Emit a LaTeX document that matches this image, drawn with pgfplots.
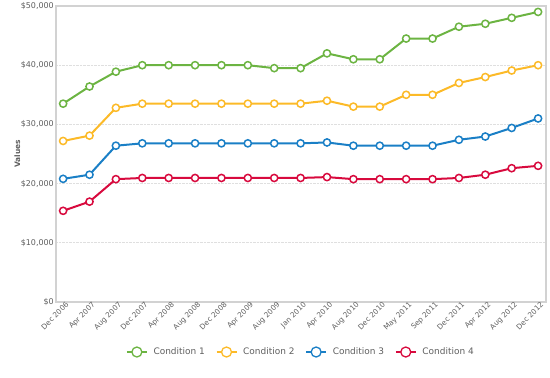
\documentclass[border=0pt]{standalone}
\usepackage{pgfplots}
\pgfplotsset{compat=1.18}
\usepackage{fontspec}
\setmainfont{DejaVu Sans}
\definecolor{cgreen}{RGB}{108,180,66}
\definecolor{cyellow}{RGB}{252,186,40}
\definecolor{cblue}{RGB}{26,127,198}
\definecolor{cred}{RGB}{216,10,62}
\definecolor{txt}{RGB}{95,95,95}
\definecolor{frame}{RGB}{210,210,210}
\begin{document}
\begin{tikzpicture}[x=1bp,y=1bp]
\begin{axis}[
  scale only axis,
  width=490bp, height=296bp,
  xmin=-0.27, xmax=18.3,
  ymin=0, ymax=50000,
  scaled y ticks=false,
  xtick={0,...,18},
  xticklabels={Dec 2006,Apr 2007,Aug 2007,Dec 2007,Apr 2008,Aug 2008,Dec 2008,Apr 2009,Aug 2009,Jan 2010,Apr 2010,Aug 2010,Dec 2010,May 2011,Sep 2011,Dec 2011,Apr 2012,Aug 2012,Dec 2012},
  ytick={0,10000,20000,30000,40000,50000},
  yticklabels={\$0,{\$10,000},{\$20,000},{\$30,000},{\$40,000},{\$50,000}},
  xticklabel style={rotate=45, anchor=north east, font=\fontsize{7.3}{8}\selectfont, text=txt, inner sep=1pt, xshift=3bp},
  yticklabel style={font=\fontsize{8}{9}\selectfont, text=txt, inner sep=2pt},
  major tick length=0pt,
  axis line style={frame, line width=1.2bp},
  ymajorgrids,
  grid style={densely dotted, gray!25, line width=0.7bp},
  ylabel={Values},
  ylabel style={font=\bfseries\fontsize{7.5}{8}\selectfont, text=txt, yshift=-5bp},
  legend style={at={(0.5,-0.169)}, anchor=center, draw=none, fill=none, legend columns=4,
    font=\fontsize{9}{10}\selectfont, text=txt, /tikz/every even column/.append style={column sep=9bp},
    /tikz/every odd column/.append style={column sep=4bp}},
  legend image post style={line width=1.3bp},
  legend image code/.code={\draw[#1] (0bp,0bp) -- (20bp,0bp); \draw[#1, fill=white, mark size=0pt] (10bp,0bp) circle (5bp);},
  every axis plot/.append style={line width=2bp, mark=*, mark size=3.6bp, mark options={fill=white, line width=1.5bp}},
  /pgf/number format/assume math mode=true,
]
\addplot[cgreen] coordinates {(0,33500)(1,36400)(2,38900)(3,40000)(4,40000)(5,40000)(6,40000)(7,40000)(8,39500)(9,39500)(10,42000)(11,41000)(12,41000)(13,44500)(14,44500)(15,46500)(16,47000)(17,48000)(18,49000)};
\addlegendentry{Condition 1}
\addplot[cyellow] coordinates {(0,27200)(1,28100)(2,32800)(3,33500)(4,33500)(5,33500)(6,33500)(7,33500)(8,33500)(9,33500)(10,34000)(11,33000)(12,33000)(13,35000)(14,35000)(15,37000)(16,38000)(17,39100)(18,40000)};
\addlegendentry{Condition 2}
\addplot[cblue] coordinates {(0,20800)(1,21500)(2,26400)(3,26800)(4,26800)(5,26800)(6,26800)(7,26800)(8,26800)(9,26800)(10,26950)(11,26400)(12,26400)(13,26400)(14,26400)(15,27400)(16,27950)(17,29400)(18,31000)};
\addlegendentry{Condition 3}
\addplot[cred] coordinates {(0,15400)(1,16950)(2,20750)(3,20950)(4,20950)(5,20950)(6,20950)(7,20950)(8,20950)(9,20950)(10,21100)(11,20750)(12,20750)(13,20750)(14,20750)(15,20950)(16,21500)(17,22600)(18,23000)};
\addlegendentry{Condition 4}
\end{axis}
\path ([shift={(-56bp,-76bp)}]current axis.south west) rectangle ([shift={(4bp,6bp)}]current axis.north east);
\end{tikzpicture}
\end{document}
